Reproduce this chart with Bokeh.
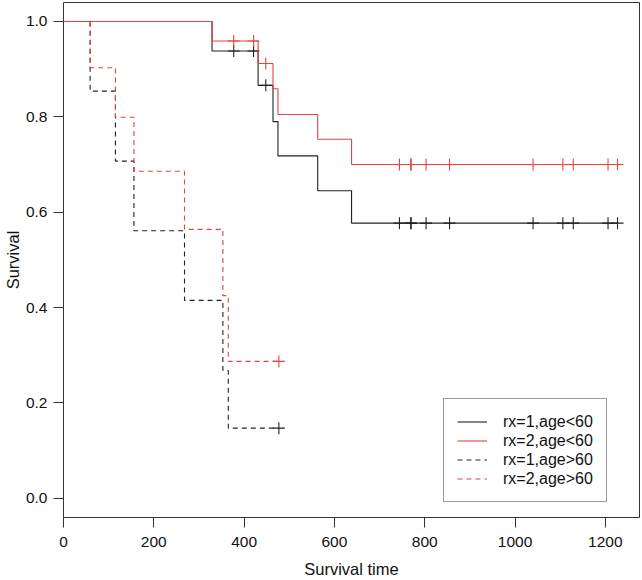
from bokeh.plotting import figure
from bokeh.models import Range1d, FixedTicker, Legend, LegendItem
from bokeh.embed import file_html
from bokeh.resources import INLINE

# ---- data (ovarian, Cox model predicted survival curves) ----
young_event_times = [329, 431, 464, 475, 563, 638]
young_censor_times = [377, 421, 448, 744, 769, 770, 803, 855, 1040, 1106, 1129, 1206, 1227]
young_end_time = 1227
surv_rx1_young = [0.938, 0.866, 0.790, 0.718, 0.645, 0.577]
surv_rx2_young = [0.959, 0.912, 0.859, 0.805, 0.753, 0.700]

old_event_times = [59, 115, 156, 268, 353, 365]
old_censor_times = [477]
old_end_time = 477
surv_rx1_old = [0.854, 0.707, 0.561, 0.415, 0.268, 0.147]
surv_rx2_old = [0.903, 0.799, 0.686, 0.564, 0.425, 0.287]

labels = ["rx=1,age<60", "rx=2,age<60", "rx=1,age>60", "rx=2,age>60"]
x_ticks = [0, 200, 400, 600, 800, 1000, 1200]
y_ticks = [0.0, 0.2, 0.4, 0.6, 0.8, 1.0]

BLACK = "#222222"
RED = "#E3443F"
FONT = "Liberation Sans"

p = figure(width=640, height=580, output_backend="svg", toolbar_location=None,
           x_range=Range1d(0, 1275.7), y_range=Range1d(-0.0404, 1.0398),
           min_border_left=63, min_border_right=1, min_border_top=2, min_border_bottom=62)
p.background_fill_color = "white"
p.border_fill_color = "white"
p.grid.visible = False
p.outline_line_color = "#333333"
p.outline_line_width = 1


def surv_at(times, survs, t):
    s = 1.0
    for tt, ss in zip(times, survs):
        if tt <= t:
            s = ss
    return s


def curve(times, survs, end, censors, color, dash):
    xs = [0] + list(times) + [end]
    ys = [1.0] + list(survs) + [survs[-1]]
    r = p.step(xs, ys, mode="after", line_color=color, line_width=1.1, line_dash=dash)
    cy = [surv_at(times, survs, c) for c in censors]
    p.scatter(censors, cy, marker="cross", size=12, line_color=color, line_width=1.1)
    return r


r1 = curve(young_event_times, surv_rx1_young, young_end_time, young_censor_times, BLACK, "solid")
r2 = curve(young_event_times, surv_rx2_young, young_end_time, young_censor_times, RED, "solid")
r3 = curve(old_event_times, surv_rx1_old, old_end_time, old_censor_times, BLACK, "5 4")
r4 = curve(old_event_times, surv_rx2_old, old_end_time, old_censor_times, RED, "5 4")

# axes
p.xaxis.ticker = FixedTicker(ticks=x_ticks)
p.yaxis.ticker = FixedTicker(ticks=y_ticks)
p.yaxis.major_label_overrides = {t: f"{t:.1f}" for t in y_ticks}
for ax in (p.xaxis[0], p.yaxis[0]):
    ax.axis_line_color = None
    ax.major_tick_in = 0
    ax.major_tick_out = 10
    ax.major_tick_line_color = "#333333"
    ax.minor_tick_line_color = None
    ax.major_label_text_font = FONT
    ax.major_label_text_font_size = "15.5px"
    ax.major_label_text_color = "#111111"
    ax.axis_label_text_font = FONT
    ax.axis_label_text_font_size = "16.5px"
    ax.axis_label_text_font_style = "normal"
    ax.axis_label_text_color = "#111111"
p.xaxis.axis_label = "Survival time"
p.yaxis.axis_label = "Survival"
p.xaxis.major_label_standoff = 9
p.yaxis.major_label_standoff = 6
p.xaxis.axis_label_standoff = 10
p.yaxis.axis_label_standoff = 1
p.yaxis.major_label_orientation = "horizontal"

legend = Legend(items=[LegendItem(label=l, renderers=[r]) for l, r in zip(labels, [r1, r2, r3, r4])],
                location=(380, 15), orientation="vertical")
legend.label_text_font = FONT
legend.label_text_font_size = "16px"
legend.label_text_color = "#111111"
legend.border_line_color = "#333333"
legend.border_line_width = 1
legend.background_fill_color = "white"
legend.background_fill_alpha = 1.0
legend.padding = 13
legend.spacing = 0
legend.margin = 0
legend.glyph_width = 30
legend.glyph_height = 19
legend.label_height = 19
legend.label_standoff = 16
p.add_layout(legend, "center")

open("out.html", "w").write(file_html(p, INLINE))
